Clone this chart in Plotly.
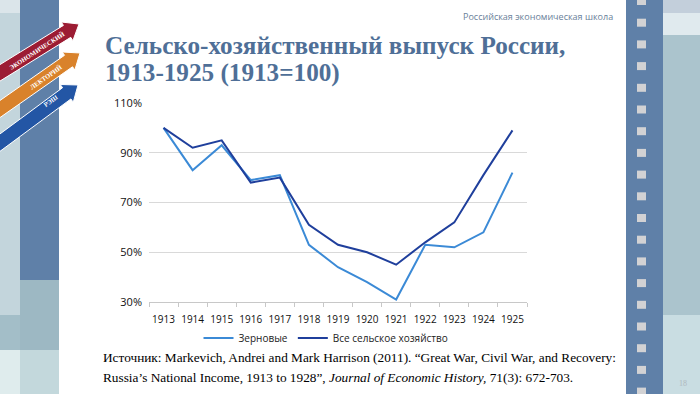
import plotly.graph_objects as go
import math

years = ["1913", "1914", "1915", "1916", "1917", "1918", "1919", "1920", "1921", "1922", "1923", "1924", "1925"]
grain = [100, 83, 93, 79, 81, 53, 44, 38, 31, 53, 52, 58, 82]
all_agri = [100, 92, 95, 78, 80, 61, 53, 50, 45, 54, 62, 81, 99]
series_names = ["Зерновые", "Все сельское хозяйство"]
y_ticks = [30, 50, 70, 90, 110]

W, H = 700, 394
L, R, T, B = 149, 527, 103, 302

def X(px):
    return (px - L) / (R - L)

def Y(py):
    return (B - py) / (B - T)

fig = go.Figure()
fig.add_trace(go.Scatter(x=years, y=grain, mode="lines", name=series_names[0],
                         line=dict(color="#3b8ad6", width=2)))
fig.add_trace(go.Scatter(x=years, y=all_agri, mode="lines", name=series_names[1],
                         line=dict(color="#1f3f9c", width=2)))

shapes = []

def rect(x0, y0, x1, y1, color):
    shapes.append(dict(type="rect", xref="paper", yref="paper", x0=X(x0), x1=X(x1), y0=Y(y1), y1=Y(y0),
                       fillcolor=color, line=dict(width=0), layer="below"))

# left decoration
rect(0, 0, 20, 394, "#c3d5dc")
rect(0, 0, 20, 13, "#dbe5ea")
rect(0, 315, 20, 350, "#a3bec8")
rect(0, 350, 20, 394, "#dfeced")
rect(20, 0, 59, 280, "#5f80a8")
rect(20, 280, 59, 350, "#9db8c3")
rect(20, 350, 59, 394, "#c3d8dc")

# right decoration
rect(663, 0, 700, 394, "#abc4cd")
rect(663, 0, 700, 13, "#c3cfdb")
rect(663, 13, 700, 35, "#e0eaee")
rect(663, 315, 700, 394, "#c9dde2")
rect(626, 0, 663, 394, "#5f80a8")
sq_y = -3
while sq_y < 394:
    rect(637, sq_y, 646, sq_y + 8, "#d2d2d4")
    sq_y += 21.7

# arrows
def arrow(x0, y0, x1, y1, color, hw=7, hhw=11, hl=14):
    dx, dy = x1 - x0, y1 - y0
    ln = math.hypot(dx, dy)
    ux, uy = dx / ln, dy / ln
    nx, ny = -uy, ux
    bx, by = x1 - ux * hl, y1 - uy * hl
    pts = [(x0 + nx * hw, y0 + ny * hw), (bx + nx * hw, by + ny * hw), (bx + nx * hhw, by + ny * hhw),
           (x1, y1), (bx - nx * hhw, by - ny * hhw), (bx - nx * hw, by - ny * hw),
           (x0 - nx * hw, y0 - ny * hw)]
    path = "M " + " L ".join(f"{X(px):.5f},{Y(py):.5f}" for px, py in pts) + " Z"
    shapes.append(dict(type="path", xref="paper", yref="paper", path=path, fillcolor=color,
                       line=dict(color="white", width=1), layer="above"))

arrow(-10, 79, 79, 24, "#9c1c33")
arrow(-10, 116, 80, 53, "#d9822b")
arrow(-10, 150, 78, 85, "#2356a5")

ann = []
def text(px, py, s, size, color, family, xanchor="left", yanchor="middle", angle=0):
    ann.append(dict(x=X(px), y=Y(py), xref="paper", yref="paper", text=s, showarrow=False,
                    xanchor=xanchor, yanchor=yanchor, textangle=angle,
                    font=dict(size=size, color=color, family=family)))

text(37, 51, "<b>ЭКОНОМИЧЕСКИЙ</b>", 6.5, "white", "Liberation Serif", "center", angle=-33)
text(45, 77, "<b>ЛЕКТОРИЙ</b>", 6.5, "white", "Liberation Serif", "center", angle=-35)
text(51, 101, "<b>РЭШ</b>", 6.5, "white", "Liberation Serif", "center", angle=-36)

text(103, 45, "<b>Сельско-хозяйственный выпуск России,</b>", 25.2, "#4f6f97", "Liberation Serif")
text(103, 73, "<b>1913-1925 (1913=100)</b>", 25.2, "#4f6f97", "Liberation Serif")
text(615, 17, "Российская экономическая школа", 9, "#6a7f9a", "Open Sans", "right")
text(101, 357, "Источник: Markevich, Andrei and Mark Harrison (2011). “Great War, Civil War, and Recovery:", 13.3, "black", "Liberation Serif")
text(101, 377, "Russia’s National Income, 1913 to 1928”, <i>Journal of Economic History,</i> 71(3): 672-703.", 13.3, "black", "Liberation Serif")
text(683, 383, "18", 8, "#b0b8c0", "Liberation Serif", "center")

fig.update_layout(
    width=W, height=H,
    margin=dict(l=L, r=W - R, t=T, b=H - B),
    paper_bgcolor="white", plot_bgcolor="white",
    shapes=shapes, annotations=ann,
    showlegend=True,
    legend=dict(orientation="h", x=X(326), xanchor="center", y=Y(338), yanchor="middle",
                font=dict(size=10, family="Open Sans", color="#222"), bgcolor="rgba(0,0,0,0)",
                itemwidth=30, tracegroupgap=0),
    xaxis=dict(type="category", range=[-0.5, 12.5], showgrid=False, showline=True, linecolor="#c8c8c8",
               linewidth=1, ticks="outside", tickson="boundaries", tickcolor="#c8c8c8", ticklen=4,
               tickangle=0, tickfont=dict(size=10, family="Open Sans", color="#111"),
               ticklabelstandoff=8, fixedrange=True),
    yaxis=dict(range=[30, 110], tickvals=y_ticks, ticktext=[f"{v}%" for v in y_ticks],
               showgrid=True, gridcolor="#d9d9d9", gridwidth=1, zeroline=False, showline=False,
               tickfont=dict(size=11, family="Open Sans", color="#111"), ticklabelstandoff=6),
)

fig.write_html("out.html", config={"displayModeBar": False},
               post_script="document.body.style.margin='0';document.body.style.padding='0';")
